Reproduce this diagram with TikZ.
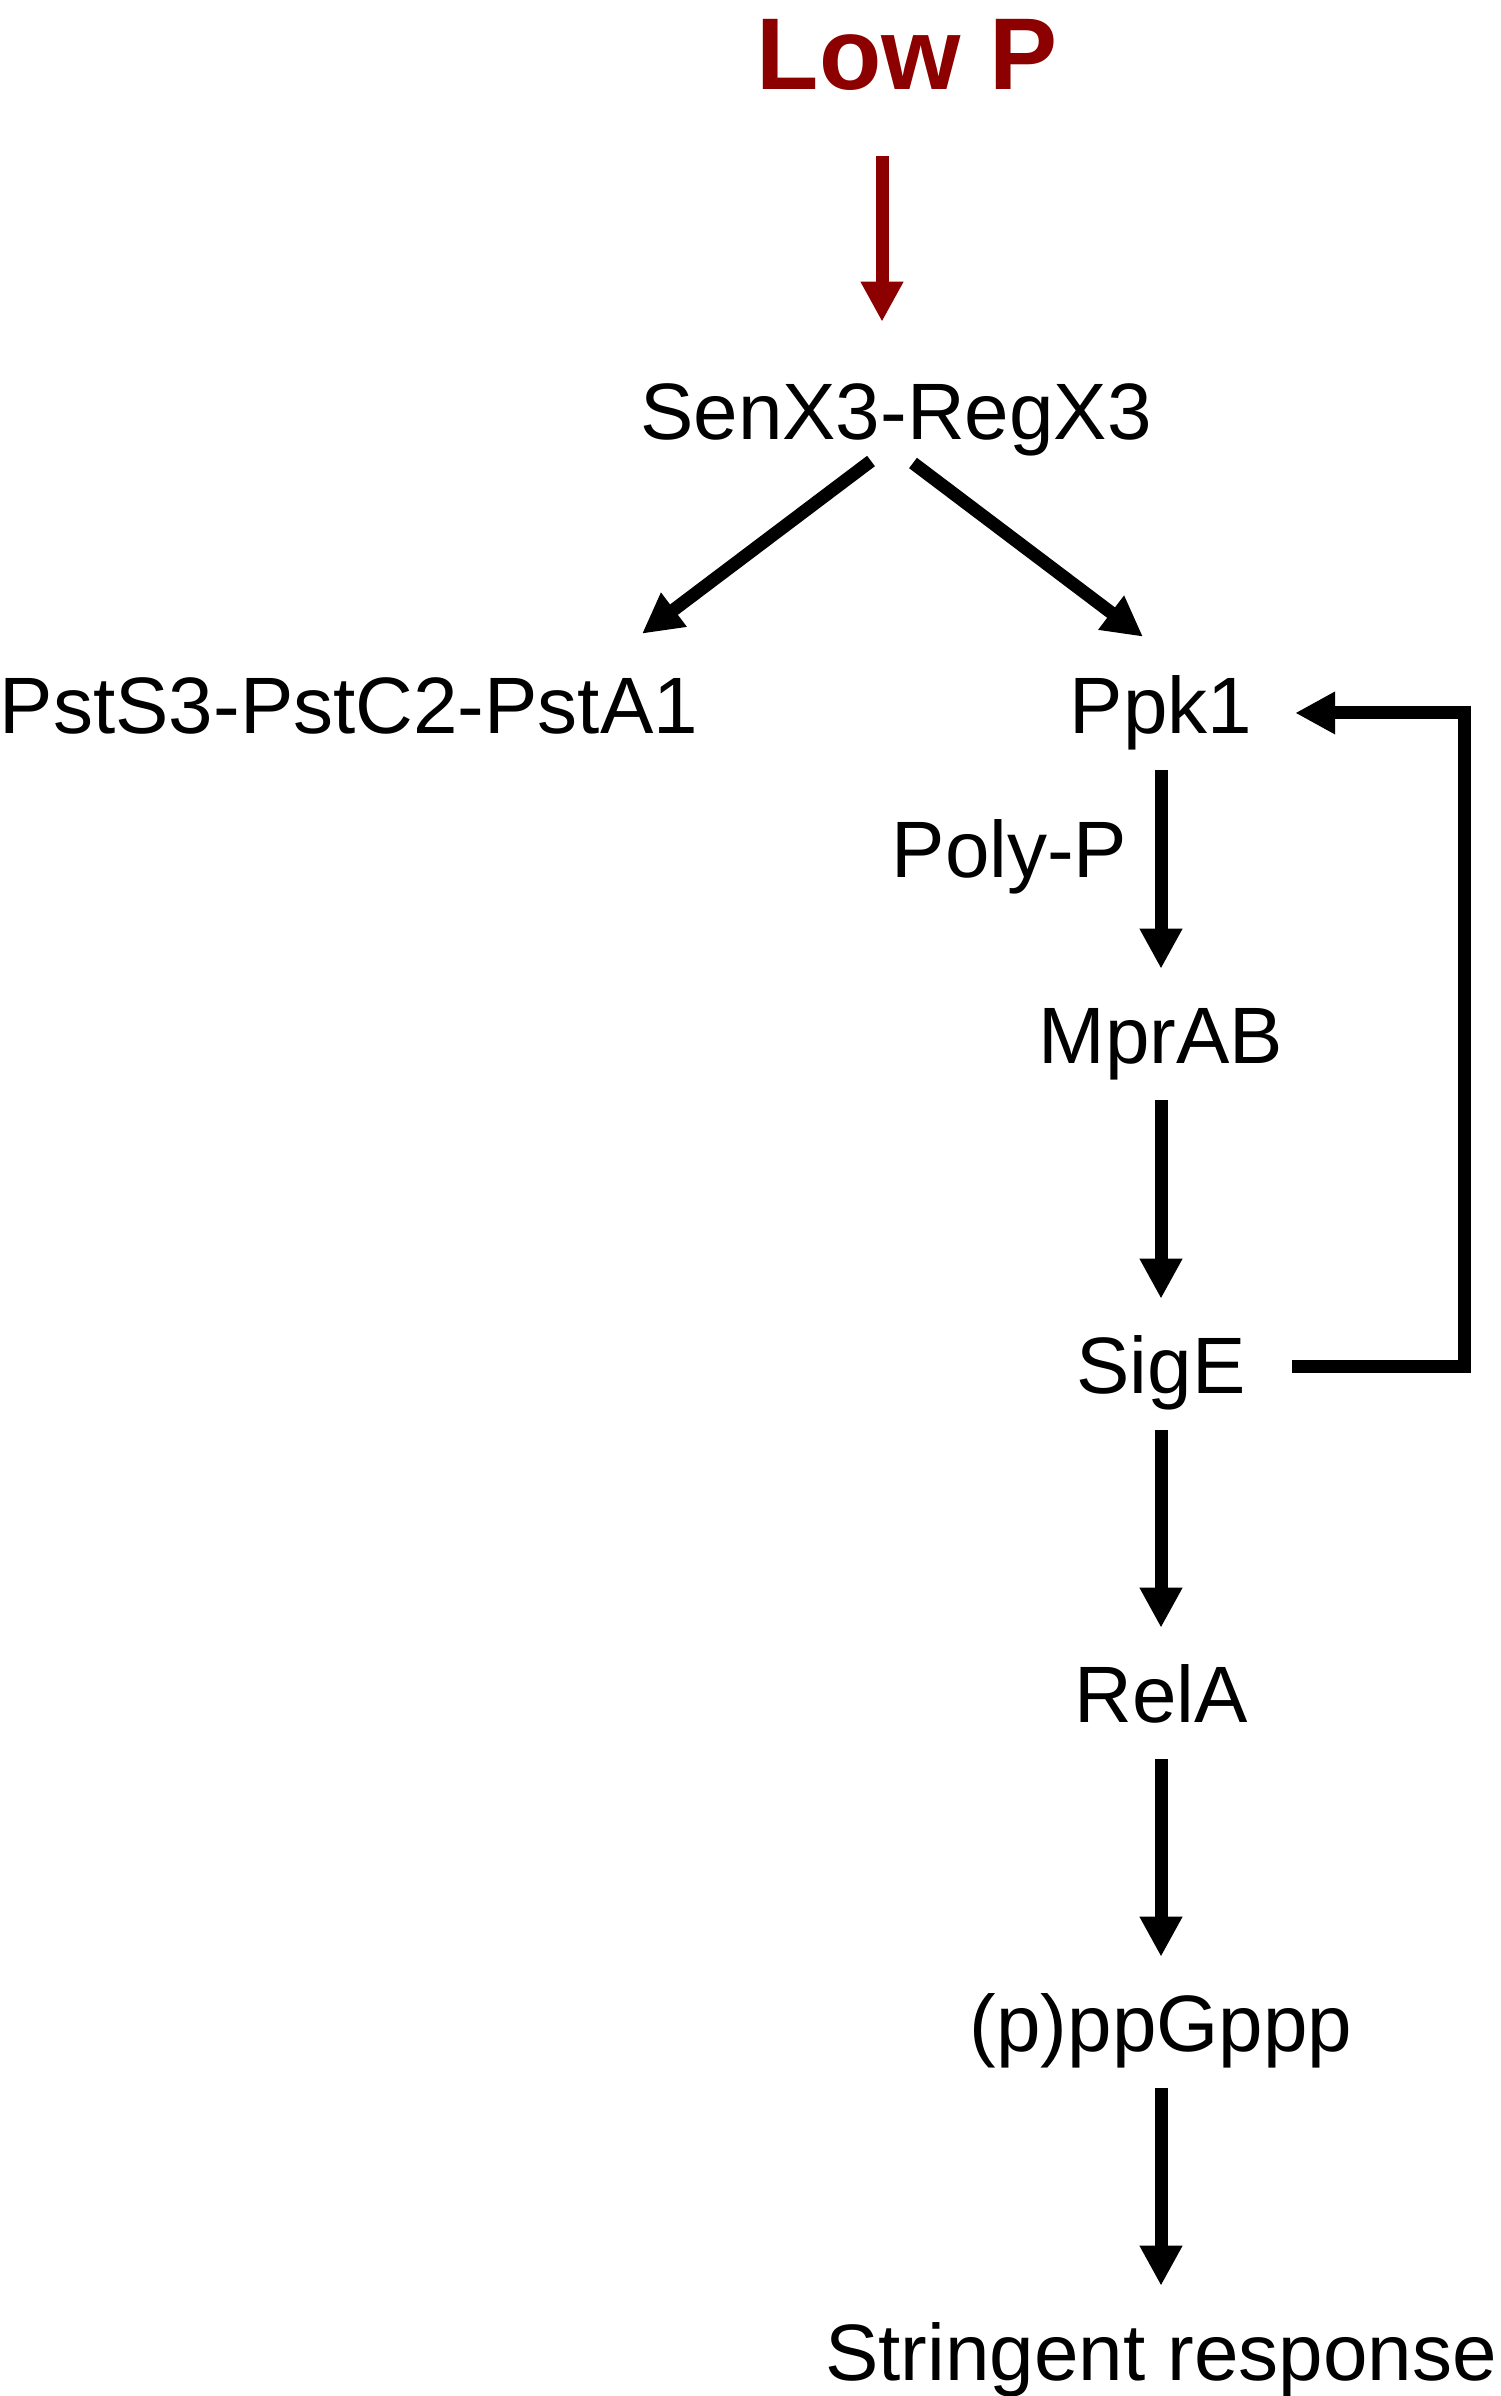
\documentclass[tikz,border=0pt]{standalone}
\usepackage{fontspec}
\setmainfont{Liberation Sans}
\usetikzlibrary{arrows.meta,calc}
\definecolor{lowred}{RGB}{140,0,0}
\begin{document}
\begin{tikzpicture}[x=0.5pt,y=-0.5pt,
  lbl/.style={inner sep=0pt, outer sep=0pt, font=\fontsize{40pt}{48pt}\selectfont},
  col/.style={lbl, text height=28.64pt, text depth=0pt, anchor=base},
  arr/.style={line width=6.5pt, -{Triangle[width=20pt,length=20pt]}},
  varr/.style={arr, shorten <=18.5pt, shorten >=18.5pt}]
\useasboundingbox (0,0) rectangle (1500,2396);
% nodes
\node[lbl, font=\fontsize{51pt}{60pt}\selectfont\bfseries, text=lowred, anchor=base] (lowp) at (907,90) {Low P};
\node[col] (senx) at (896,440) {SenX3-RegX3};
\node[col] (pst) at (349,733) {PstS3-PstC2-PstA1};
\node[col] (ppk) at (1161,733) {Ppk1};
\node[lbl, anchor=base] (poly) at (1009.5,877) {Poly-P};
\node[col] (mpr) at (1161,1063) {MprAB};
\node[col] (sige) at (1161,1393) {SigE};
\node[col] (rela) at (1161,1722) {RelA};
\node[col] (ppg) at (1161,2051) {(p)ppGppp};
\node[col] (str) at (1161,2380) {Stringent response};
% connectors
\draw[arr, draw=lowred, fill=lowred] ($(lowp.base)+(-25,66)$) -- ($(senx.north)+(-14,-61)$);
\draw[arr] ($(senx.base)+(-25,21)$) -- ($(pst.north)+(293,-42)$);
\draw[arr] ($(senx.base)+(17,23)$) -- ($(ppk.north)+(-18,-39)$);
\draw[varr] (ppk.south) -- (mpr.north);
\draw[varr] (mpr.south) -- (sige.north);
\draw[varr] (sige.south) -- (rela.north);
\draw[varr] (rela.south) -- (ppg.north);
\draw[varr] (ppg.south) -- (str.north);
\draw[arr] ($(sige.east)+(46.5,2.6)$) -- ++(172,0) |- ($(ppk.east)+(43,8.6)$);
\end{tikzpicture}
\end{document}
